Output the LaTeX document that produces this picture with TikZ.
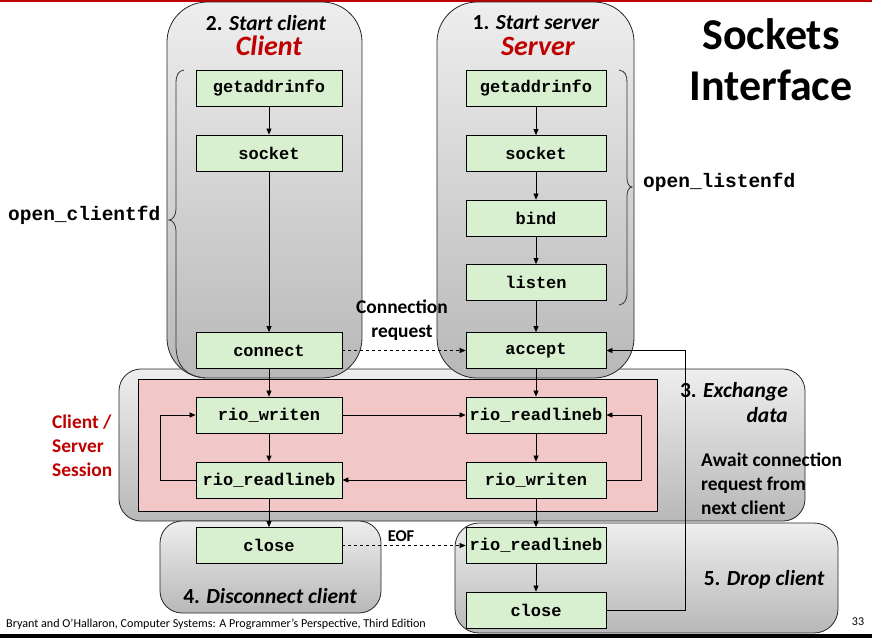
\documentclass[tikz,border=0pt]{standalone}
\usepackage{fontspec}
\setmainfont{Carlito}
\newfontfamily\monofn{Liberation Mono}
\usetikzlibrary{arrows.meta}
\definecolor{fngreen}{RGB}{216,240,208}
\definecolor{pinkbg}{RGB}{241,199,199}
\definecolor{titlered}{RGB}{192,0,0}
\definecolor{boxtop}{RGB}{238,238,238}
\definecolor{boxbot}{RGB}{184,184,184}
\begin{document}
\begin{tikzpicture}[x=1pt,y=-1pt,
  panel/.style={draw=black!85, line width=0.8pt, top color=boxtop, bottom color=boxbot},
  fnbox/.style={draw=black, line width=0.8pt, fill=fngreen, minimum height=36pt, inner sep=0pt,
    font=\monofn\bfseries\fontsize{17}{20}\selectfont},
  cfn/.style={fnbox, minimum width=146pt},
  sfn/.style={fnbox, minimum width=140pt},
  arr/.style={-{Triangle[length=6pt,width=5pt]}, line width=0.7pt},
  dasharr/.style={arr, dashed},
  bracestyle/.style={draw=black!80, line width=0.8pt},
  lbl/.style={font=\bfseries\fontsize{19.4}{24}\selectfont, inner sep=0pt},
  redlbl/.style={lbl, text=titlered},
  stage/.style={font=\bfseries\fontsize{21.5}{25}\selectfont, inner sep=0pt},
  who/.style={font=\bfseries\itshape\fontsize{28}{30}\selectfont, text=titlered, inner sep=0pt},
  fdlbl/.style={font=\monofn\bfseries\fontsize{19.5}{22}\selectfont, inner sep=0pt}
]
\useasboundingbox (0,0) rectangle (872,638);
\fill[white] (0,0) rectangle (872,638);
\fill[titlered] (0,0) rectangle (872,1.5);
\fill[black] (0,634) rectangle (872,638);

% panels
\path[panel, rounded corners=22pt] (119,369) rectangle (805,521);
\path[panel, rounded corners=40pt] (167,2) rectangle (362,378);
\path[panel, rounded corners=40pt] (437,2) rectangle (634,378);
\path[draw=black, line width=0.8pt, fill=pinkbg] (138,379) rectangle (657,511);
\path[panel, rounded corners=22pt] (160,521) rectangle (381,613);
\path[panel, rounded corners=24pt] (455,523) rectangle (838,633);

% braces
\draw[bracestyle] (184,70) .. controls (178,71) and (176,75) .. (176,84) -- (176,209)
  .. controls (176,215) and (173,220) .. (169,220) .. controls (173,220) and (176,225) .. (176,231)
  -- (176,345) .. controls (176,365) and (185,376) .. (205,378);
\draw[bracestyle] (619,70) .. controls (625,71) and (627,75) .. (627,82) -- (627,178)
  .. controls (627,183) and (629,187) .. (632,187) .. controls (629,187) and (627,191) .. (627,196)
  -- (627,292) .. controls (627,300) and (625,304) .. (619,305);

% client nodes
\node[cfn] (cga) at (269,88.5) {getaddrinfo};
\node[cfn] (csock) at (269,153) {socket};
\node[cfn] (cconn) at (269,350.5) {connect};
\node[cfn] (cw) at (269,415) {rio\_writen};
\node[cfn] (crl) at (269,480) {rio\_readlineb};
\node[cfn] (cclose) at (269,545.5) {close};
% server nodes
\node[sfn] (sga) at (536,88.5) {getaddrinfo};
\node[sfn] (ssock) at (536,153.5) {socket};
\node[sfn] (sbind) at (536,218) {bind};
\node[sfn] (slisten) at (536,282.5) {listen};
\node[sfn] (sacc) at (536,350.5) {accept};
\node[sfn] (srl) at (536,415) {rio\_readlineb};
\node[sfn] (sw) at (536,480) {rio\_writen};
\node[sfn] (srl2) at (536,545.5) {rio\_readlineb};
\node[sfn] (sclose) at (536,610) {close};

% arrows
\draw[arr] (cga) -- (csock);
\draw[arr] (csock) -- (cconn);
\draw[arr] (cconn) -- (cw);
\draw[arr] (cw) -- (crl);
\draw[arr] (crl) -- (cclose);
\draw[arr] (sga) -- (ssock);
\draw[arr] (ssock) -- (sbind);
\draw[arr] (sbind) -- (slisten);
\draw[arr] (slisten) -- (sacc);
\draw[arr] (sacc) -- (srl);
\draw[arr] (srl) -- (sw);
\draw[arr] (sw) -- (srl2);
\draw[arr] (srl2) -- (sclose);
\draw[dasharr] (cconn) -- (sacc);
\draw[arr] (cw) -- (srl);
\draw[arr] (sw) -- (crl);
\draw[dasharr] (cclose) -- (srl2);
\draw[arr] (crl.west) -- ++(-35,0) |- (cw.west);
\draw[arr] (sw.east) -- ++(35,0) |- (srl.east);
\draw[arr] (sclose.east) -- ++(79,0) |- (sacc.east);

% labels
\node[font=\bfseries\fontsize{44}{51}\selectfont, align=center, inner sep=0pt] (title) at (771,60) {Sockets\\Interface};
\node[stage] (cstage) at (266,23) {2. \itshape Start client};
\node[who] (cwho) at (269,46) {Client};
\node[stage] (sstage) at (536,23) {1. \itshape Start server};
\node[who] (swho) at (538,46) {Server};
\node[fdlbl, anchor=west] (ocfd) at (8,215) {open\_clientfd};
\node[fdlbl, anchor=west] (olfd) at (643,182) {open\_listenfd};
\node[lbl, align=center] (connreq) at (402,320) {Connection\\request};
\node[redlbl, align=left, anchor=west] (sess) at (52,446) {Client /\\Server\\Session};
\node[stage, align=right, anchor=east] (xch) at (788,403) {3. \itshape Exchange\\\itshape data};
\node[lbl, align=left, anchor=west] (await) at (701,484) {Await connection\\request from\\next client};
\node[lbl, font=\bfseries\fontsize{16.5}{20}\selectfont] (eof) at (401,536) {EOF};
\node[stage] (disc) at (270,596) {4. \itshape Disconnect client};
\node[stage] (drop) at (764,580) {5. \itshape Drop client};
\node[anchor=west, inner sep=0pt, font=\fontsize{12.1}{14}\selectfont] (foot) at (6,624) {Bryant and O’Hallaron, Computer Systems: A Programmer’s Perspective, Third Edition};
\node[inner sep=0pt, font=\fontsize{12}{14}\selectfont] (pg) at (858,622) {33};
\end{tikzpicture}
\end{document}
